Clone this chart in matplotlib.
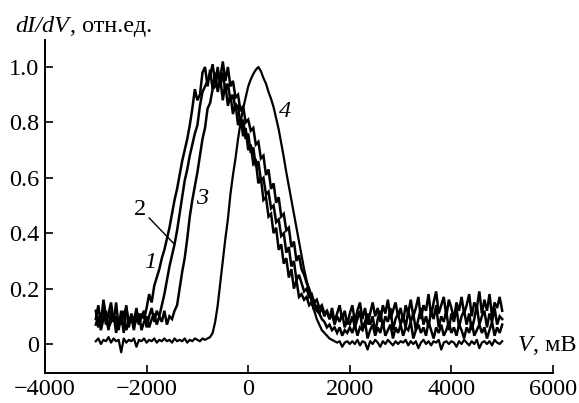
import numpy as np
import matplotlib
matplotlib.use("Agg")
import matplotlib.pyplot as plt

plt.rcParams['font.family'] = ['Liberation Serif', 'DejaVu Serif']

# voltage grid, mV (step 50 mV)
V_start, V_stop, V_step = -3000, 5000, 50
V = np.arange(V_start, V_stop + 1, V_step)

curve1 = [
    0.09, 0.14, 0.07, 0.16, 0.10, 0.05, 0.12, 0.08, 0.15, 0.06, 0.11, 0.04, 0.13, 0.08, 0.10, 0.05, 0.12, 0.07, 0.11, 0.09, 0.13,
    0.18, 0.15, 0.21, 0.24, 0.27, 0.31, 0.34, 0.38, 0.42, 0.47, 0.52, 0.56, 0.61, 0.66, 0.70, 0.74, 0.79, 0.85, 0.92, 0.88,
    0.90, 0.98, 1.00, 0.93, 0.99, 0.92, 0.98, 0.91, 0.96, 0.88, 0.94, 0.86, 0.90, 0.83, 0.87, 0.79, 0.82, 0.75, 0.78, 0.70,
    0.72, 0.65, 0.66, 0.58, 0.60, 0.52, 0.53, 0.46, 0.47, 0.40, 0.42, 0.34, 0.36, 0.29, 0.31, 0.24, 0.27, 0.20, 0.23, 0.17,
    0.18, 0.16, 0.17, 0.14, 0.15, 0.12, 0.14, 0.11, 0.13, 0.10, 0.12, 0.09, 0.13, 0.08, 0.11, 0.14, 0.09, 0.12, 0.07, 0.11,
    0.14, 0.08, 0.12, 0.15, 0.09, 0.13, 0.07, 0.11, 0.15, 0.10, 0.13, 0.08, 0.14, 0.11, 0.16, 0.09, 0.12, 0.15, 0.10, 0.13,
    0.08, 0.14, 0.11, 0.16, 0.10, 0.13, 0.17, 0.09, 0.14, 0.12, 0.18, 0.10, 0.15, 0.19, 0.11, 0.14, 0.17, 0.10, 0.16, 0.13,
    0.09, 0.15, 0.12, 0.17, 0.11, 0.14, 0.18, 0.10, 0.15, 0.13, 0.19, 0.11, 0.16, 0.12, 0.18, 0.10, 0.15, 0.13, 0.17, 0.12,
]

curve2 = [
    0.12, 0.06, 0.10, 0.13, 0.07, 0.11, 0.15, 0.08, 0.10, 0.05, 0.12, 0.09, 0.14, 0.06, 0.11, 0.08, 0.13, 0.07, 0.10, 0.12, 0.06,
    0.10, 0.13, 0.08, 0.12, 0.10, 0.14, 0.18, 0.23, 0.28, 0.32, 0.36, 0.41, 0.47, 0.53, 0.59, 0.63, 0.68, 0.72, 0.76, 0.79,
    0.86, 0.91, 0.93, 0.95, 0.97, 1.01, 0.94, 1.00, 0.93, 0.98, 0.91, 0.94, 0.88, 0.90, 0.85, 0.86, 0.79, 0.81, 0.74, 0.76,
    0.69, 0.71, 0.64, 0.66, 0.59, 0.60, 0.54, 0.55, 0.49, 0.50, 0.44, 0.45, 0.39, 0.40, 0.33, 0.35, 0.28, 0.30, 0.23, 0.25,
    0.22, 0.19, 0.20, 0.17, 0.18, 0.15, 0.16, 0.13, 0.14, 0.11, 0.12, 0.09, 0.11, 0.07, 0.10, 0.08, 0.11, 0.06, 0.09, 0.07,
    0.10, 0.06, 0.09, 0.12, 0.05, 0.08, 0.11, 0.07, 0.10, 0.04, 0.09, 0.12, 0.06, 0.10, 0.08, 0.13, 0.05, 0.09, 0.11, 0.07,
    0.10, 0.06, 0.12, 0.08, 0.11, 0.05, 0.09, 0.13, 0.07, 0.10, 0.06, 0.12, 0.09, 0.14, 0.06, 0.10, 0.08, 0.12, 0.05, 0.11,
    0.08, 0.13, 0.06, 0.10, 0.12, 0.07, 0.11, 0.05, 0.09, 0.14, 0.07, 0.10, 0.12, 0.06, 0.11, 0.08, 0.13, 0.07, 0.10, 0.09,
]

curve3 = [
    0.07, 0.10, 0.05, 0.09, 0.12, 0.06, 0.08, 0.11, 0.04, 0.09, 0.07, 0.12, 0.05, 0.08, 0.10, 0.06, 0.09, 0.11, 0.05, 0.08, 0.10,
    0.06, 0.09, 0.11, 0.07, 0.10, 0.08, 0.12, 0.07, 0.10, 0.09, 0.12, 0.14, 0.20, 0.26, 0.31, 0.38, 0.46, 0.52, 0.57, 0.62,
    0.68, 0.74, 0.78, 0.85, 0.87, 0.92, 0.93, 0.98, 0.96, 1.02, 0.95, 1.00, 0.93, 0.95, 0.89, 0.90, 0.84, 0.86, 0.80, 0.81,
    0.77, 0.78, 0.72, 0.73, 0.67, 0.68, 0.61, 0.63, 0.56, 0.58, 0.51, 0.53, 0.46, 0.47, 0.41, 0.42, 0.35, 0.37, 0.30, 0.32,
    0.27, 0.25, 0.22, 0.20, 0.17, 0.15, 0.12, 0.11, 0.09, 0.08, 0.06, 0.07, 0.05, 0.06, 0.04, 0.06, 0.03, 0.05, 0.04, 0.06,
    0.04, 0.07, 0.03, 0.06, 0.05, 0.08, 0.02, 0.05, 0.07, 0.03, 0.06, 0.04, 0.08, 0.03, 0.05, 0.07, 0.02, 0.06, 0.04, 0.07,
    0.03, 0.06, 0.05, 0.08, 0.02, 0.05, 0.07, 0.04, 0.06, 0.03, 0.08, 0.05, 0.02, 0.06, 0.04, 0.07, 0.03, 0.05, 0.08, 0.04,
    0.06, 0.03, 0.07, 0.05, 0.02, 0.06, 0.04, 0.08, 0.03, 0.05, 0.07, 0.04, 0.06, 0.02, 0.05, 0.08, 0.03, 0.06, 0.04, 0.07,
]

curve4 = [
    0.01, 0.02, 0.00, 0.015, 0.01, 0.025, 0.005, 0.02, 0.01, 0.015, -0.03, 0.02, 0.005, 0.015, 0.01, 0.02, -0.01, 0.015, 0.01, 0.02, 0.005,
    0.015, 0.01, 0.02, 0.005, 0.015, 0.01, 0.02, 0.01, 0.015, 0.005, 0.02, 0.01, 0.015, 0.01, 0.02, 0.005, 0.015, 0.01, 0.02, 0.015,
    0.01, 0.02, 0.015, 0.02, 0.025, 0.04, 0.08, 0.14, 0.22, 0.30, 0.38, 0.45, 0.54, 0.61, 0.67, 0.74, 0.80, 0.85, 0.89, 0.93,
    0.955, 0.975, 0.99, 1.00, 0.985, 0.96, 0.94, 0.91, 0.885, 0.855, 0.815, 0.775, 0.725, 0.675, 0.62, 0.57, 0.52, 0.47, 0.42, 0.37,
    0.32, 0.27, 0.23, 0.19, 0.15, 0.12, 0.09, 0.07, 0.05, 0.04, 0.03, 0.02, 0.015, 0.01, 0.005, 0.01, -0.01, 0.005, 0.01, 0.00,
    0.01, 0.00, 0.015, -0.005, 0.01, 0.005, -0.02, 0.01, 0.00, 0.015, 0.005, -0.01, 0.01, 0.00, 0.015, 0.005, -0.005, 0.01, 0.00, 0.01,
    0.005, 0.015, -0.005, 0.01, 0.00, 0.01, -0.015, 0.005, 0.015, 0.00, 0.01, -0.005, 0.01, 0.005, 0.015, -0.02, 0.005, 0.01, 0.00, 0.01,
    0.005, -0.01, 0.01, 0.00, 0.015, 0.005, -0.005, 0.01, 0.00, 0.015, -0.015, 0.005, 0.01, 0.00, 0.01, -0.005, 0.015, 0.005, 0.00, 0.01,
]

x_ticks = [-4000, -2000, 0, 2000, 4000, 6000]
y_ticks = [0, 0.2, 0.4, 0.6, 0.8, 1.0]
y_tick_labels = ["0", "0.2", "0.4", "0.6", "0.8", "1.0"]
curve_labels = ["1", "2", "3", "4"]

FS = 17.5

fig = plt.figure(figsize=(5.79, 4.03), dpi=100)
ax = fig.add_axes([45 / 579, 30 / 403, 508 / 579, 333 / 403])

for y in (curve1, curve2, curve3):
    ax.plot(V, y, color='black', lw=1.8, solid_joinstyle='miter')
ax.plot(V, curve4, color='black', lw=1.6)

ax.set_xlim(-4000, 6000)
ax.set_ylim(-0.1047, 1.0975)
ax.set_xticks(x_ticks)
ax.set_xticklabels(["\u2212" + str(abs(t)) if t < 0 else str(t) for t in x_ticks])
ax.set_yticks(y_ticks)
ax.set_yticklabels(y_tick_labels)
ax.spines['top'].set_visible(False)
ax.spines['right'].set_visible(False)
for s in ('left', 'bottom'):
    ax.spines[s].set_linewidth(1.4)
ax.tick_params(direction='in', length=6, width=1.2, labelsize=FS, pad=4)

# curve numbers
ax.text(-1929, 0.296, curve_labels[0], fontsize=FS, style='italic', ha='center', va='center')
ax.text(-2126, 0.484, curve_labels[1], fontsize=FS, ha='center', va='center')
ax.text(-905, 0.527, curve_labels[2], fontsize=FS, style='italic', ha='center', va='center')
ax.text(728, 0.838, curve_labels[3], fontsize=FS, style='italic', ha='center', va='center')
ax.plot([-1949, -1457], [0.455, 0.361], color='black', lw=1.0)

# y-axis title
t1 = fig.text(15 / 579, 1 - 32 / 403, "dI/dV", fontsize=FS, style='italic', va='baseline', ha='left')
fig.canvas.draw()
ax.annotate(", отн.ед.", xy=(1, 0), xycoords=t1, xytext=(1, 0), textcoords='offset points',
            fontsize=FS, va='bottom', ha='left', annotation_clip=False)

# x-axis title
t2 = fig.text(518 / 579, 1 - 351 / 403, "V", fontsize=FS, style='italic', va='baseline', ha='left')
ax.annotate(", мВ", xy=(1, 0), xycoords=t2, xytext=(0, 0), textcoords='offset points',
            fontsize=FS, va='bottom', ha='left', annotation_clip=False)

fig.savefig("out.png", dpi=100)
